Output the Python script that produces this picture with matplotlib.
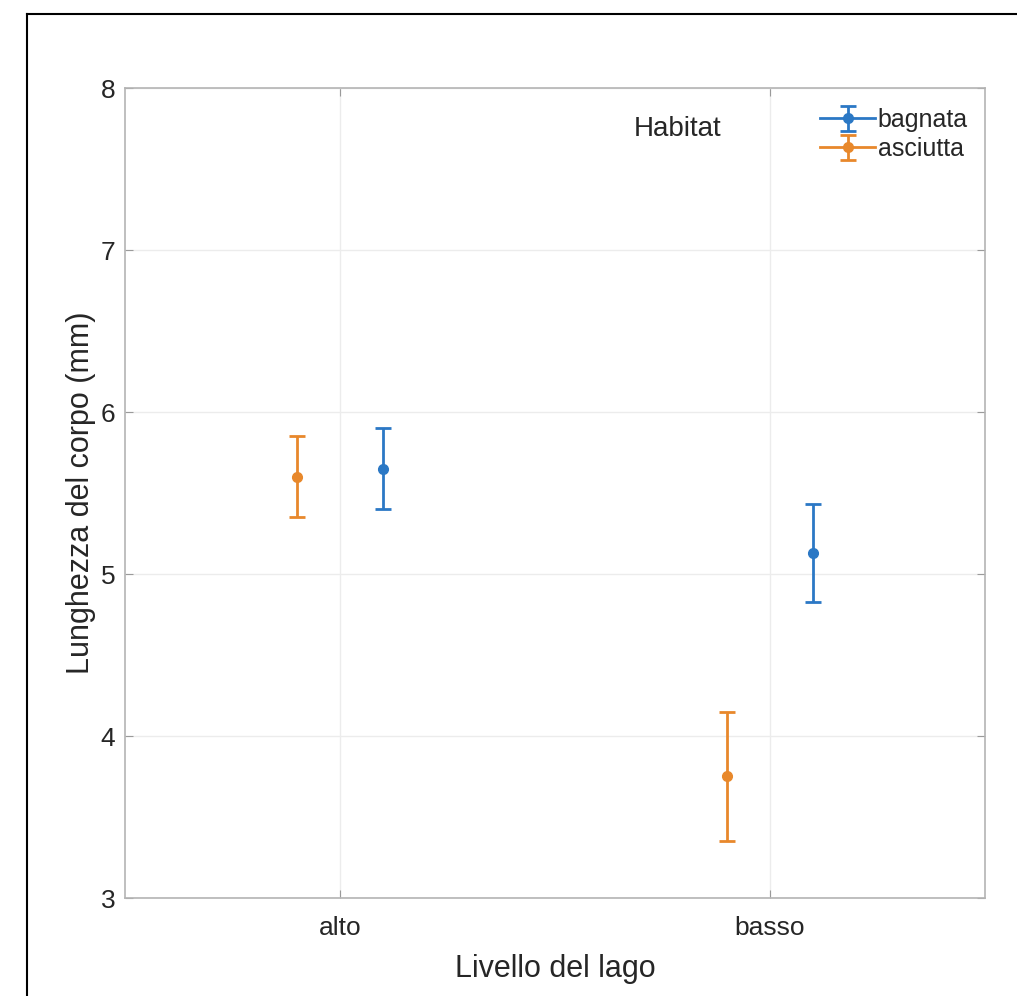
"""Lunghezza del corpo per livello del lago e habitat (grafico con barre d'errore)."""

import matplotlib

matplotlib.use("Agg")
import matplotlib.pyplot as plt
from matplotlib.lines import Line2D

levels = ["alto", "basso"]
habitats = ["bagnata", "asciutta"]
bagnata_mean = [5.65, 5.13]
bagnata_err = [0.25, 0.30]
asciutta_mean = [5.60, 3.75]
asciutta_err = [0.25, 0.40]

BLUE = "#2b78c5"
ORANGE = "#e8882b"
TEXT = "#262626"

plt.rcParams["font.family"] = ["Liberation Sans", "DejaVu Sans"]

W, H = 1017, 996
fig = plt.figure(figsize=(W / 100, H / 100), dpi=100)
ax = fig.add_axes([125 / W, 1 - 898 / H, 860 / W, 810 / H])

xpos = [i + 1 for i in range(len(levels))]
style = dict(markersize=7, linewidth=2, elinewidth=2, capsize=6, capthick=2)

ax.errorbar([x + 0.1 for x in xpos], bagnata_mean, yerr=bagnata_err,
            fmt="o", color=BLUE, **style)
ax.errorbar([x - 0.1 for x in xpos], asciutta_mean, yerr=asciutta_err,
            fmt="o", color=ORANGE, **style)

# legend proxies: line + marker + vertical error bar, like the original
nan = float("nan")
h_bag = ax.errorbar([nan], [nan], yerr=[nan], fmt="-o", color=BLUE,
                    label=habitats[0], **style)
h_asc = ax.errorbar([nan], [nan], yerr=[nan], fmt="-o", color=ORANGE,
                    label=habitats[1], **style)

ax.set_xlim(0.5, 2.5)
ax.set_ylim(3, 8)
ax.set_xticks(xpos)
ax.set_xticklabels(levels)
ax.set_yticks(range(3, 9))

ax.grid(True, color="#ececec", linewidth=1)
ax.set_axisbelow(True)
for spine in ax.spines.values():
    spine.set_color("#b4b4b4")
    spine.set_linewidth(1.2)
ax.tick_params(direction="in", length=6, color="#9a9a9a", labelsize=19,
               labelcolor=TEXT, top=True, right=True)
ax.tick_params(axis="y", pad=7)
ax.tick_params(axis="x", pad=13)

ax.set_xlabel("Livello del lago", fontsize=22, color=TEXT, labelpad=10)
ax.set_ylabel("Lunghezza del corpo (mm)", fontsize=22, color=TEXT, labelpad=3)

leg = ax.legend(handles=[h_bag, h_asc], loc="upper right", frameon=False,
                fontsize=18, handlelength=2.2, handletextpad=0.1,
                labelspacing=0.2, borderaxespad=0.0, borderpad=0.0,
                bbox_to_anchor=(0.98, 0.975))
for txt in leg.get_texts():
    txt.set_color(TEXT)

ax.text(0.643, 0.95, "Habitat", transform=ax.transAxes, fontsize=20,
        color=TEXT, ha="center", va="center")

# outer frame of the page
fig.add_artist(Line2D([27 / W, 1.0], [1 - 14 / H, 1 - 14 / H],
                      transform=fig.transFigure, color="black", linewidth=1.5))
fig.add_artist(Line2D([27 / W, 27 / W], [0.0, 1 - 14 / H],
                      transform=fig.transFigure, color="black", linewidth=1.5))

fig.savefig("out.png", dpi=100)
